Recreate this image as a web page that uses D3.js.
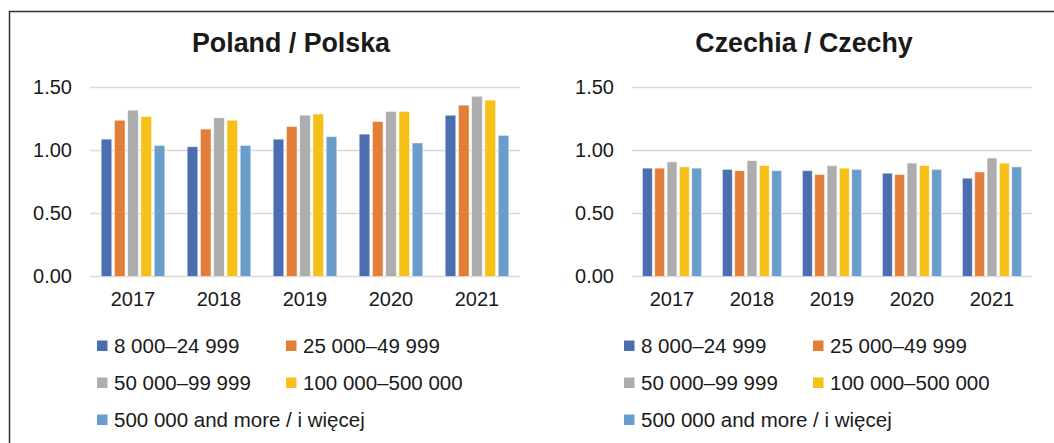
<!DOCTYPE html>
<html lang="en">
<head>
  <meta charset="UTF-8" />
  <title>Poland / Czechia</title>
  <script src="https://d3js.org/d3.v7.min.js"></script>
  <style>
    body { margin: 0; background: #fff; }
    text { font-family: "Liberation Sans", Arial, sans-serif; fill: #1a1a1a; }
  </style>
</head>
<body>
  <svg></svg>
<script>
  // data
  const years = ['2017', '2018', '2019', '2020', '2021'];
  const seriesNames = ['8 000–24 999', '25 000–49 999', '50 000–99 999', '100 000–500 000', '500 000 and more / i więcej'];
  const colors = ['#4a6eb0', '#e27e38', '#adadad', '#f5c018', '#6a9dcb'];
  const yTicks = [0, 0.5, 1, 1.5];

  // one row per series, one value per year
  const polandValues = [
    [1.09, 1.03, 1.09, 1.13, 1.28],
    [1.24, 1.17, 1.19, 1.23, 1.36],
    [1.32, 1.26, 1.28, 1.31, 1.43],
    [1.27, 1.24, 1.29, 1.31, 1.40],
    [1.04, 1.04, 1.11, 1.06, 1.12]
  ];
  const czechiaValues = [
    [0.86, 0.85, 0.84, 0.82, 0.78],
    [0.86, 0.84, 0.81, 0.81, 0.83],
    [0.91, 0.92, 0.88, 0.90, 0.94],
    [0.87, 0.88, 0.86, 0.88, 0.90],
    [0.86, 0.84, 0.85, 0.85, 0.87]
  ];

  const width = 1054, height = 443;
  const svg = d3.select('svg').attr('width', width).attr('height', height);

  // frame (top and left edges visible)
  svg.append('line').attr('x1', 9).attr('x2', width).attr('y1', 11.5).attr('y2', 11.5)
    .attr('stroke', '#333').attr('stroke-width', 1.5);
  svg.append('line').attr('x1', 9.5).attr('x2', 9.5).attr('y1', 11).attr('y2', height)
    .attr('stroke', '#333').attr('stroke-width', 1.5);

  function drawPanel(title, values, left, right, titleX, legendX) {
    const g = svg.append('g');

    let x = d3.scaleBand().domain(years).range([left, right])
      .paddingInner(0.26).paddingOuter(0.13);
    let xs = d3.scaleBand().domain(d3.range(seriesNames.length))
      .range([0, x.bandwidth()]).paddingInner(0.2);
    let y = d3.scaleLinear().domain([0, 1.5]).range([276.5, 87.5]);

    g.append('text')
      .attr('x', titleX).attr('y', 52)
      .attr('text-anchor', 'middle')
      .style('font-size', '26.8px').style('font-weight', 'bold')
      .text(title);

    // gridlines
    g.selectAll('.grid')
      .data(yTicks)
      .join('line')
      .attr('x1', left).attr('x2', right)
      .attr('y1', d => y(d)).attr('y2', d => y(d))
      .attr('stroke', '#d9d9d9').attr('stroke-width', 1.5);

    let yAxis = d3.axisLeft(y).tickValues(yTicks).tickFormat(d3.format('.2f')).tickSize(0).tickPadding(18);
    let ya = g.append('g').attr('transform', 'translate(' + left + ',0)').call(yAxis);
    ya.select('.domain').remove();
    ya.selectAll('text').style('font-size', '20px').style('font-family', '"Liberation Sans", Arial, sans-serif').attr('fill', '#1a1a1a');

    let xAxis = d3.axisBottom(x).tickSize(0).tickPadding(15);
    let xa = g.append('g').attr('transform', 'translate(0,' + y(0) + ')').call(xAxis);
    xa.select('.domain').remove();
    xa.selectAll('text').style('font-size', '20px').style('font-family', '"Liberation Sans", Arial, sans-serif').attr('fill', '#1a1a1a');

    // bars
    values.forEach((row, si) => {
      g.selectAll('.bar' + si)
        .data(row)
        .join('rect')
        .attr('x', (d, i) => x(years[i]) + xs(si))
        .attr('y', d => y(d))
        .attr('width', xs.bandwidth())
        .attr('height', d => y(0) - y(d))
        .attr('fill', colors[si])
        .attr('stroke', '#ffffff').attr('stroke-opacity', 0.6).attr('stroke-width', 0.8);
    });

    // legend, two columns
    const rows = [346, 383, 420];
    const cols = [legendX, legendX + 189];
    seriesNames.forEach((name, i) => {
      const cx = cols[i % 2], cy = rows[Math.floor(i / 2)];
      g.append('rect')
        .attr('x', cx).attr('y', cy - 5.5)
        .attr('width', 10.5).attr('height', 10.5)
        .attr('fill', colors[i]);
      g.append('text')
        .attr('x', cx + 17).attr('y', cy + 7)
        .style('font-size', '20.5px')
        .text(name);
    });
  }

  drawPanel('Poland / Polska', polandValues, 90, 520, 291, 97);
  drawPanel('Czechia / Czechy', czechiaValues, 632, 1032, 804, 624);
</script>
</body>
</html>
